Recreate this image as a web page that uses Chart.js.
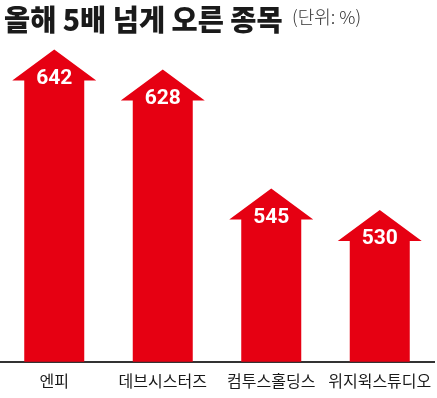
<!DOCTYPE html>
<html>
<head>
<meta charset="utf-8">
<script src="https://cdn.jsdelivr.net/npm/chart.js@4"></script>
<style>
  html, body { margin: 0; padding: 0; background: #fff; }
  #wrap { position: relative; width: 437px; height: 398px; overflow: hidden; }
  #title { position: absolute; left: 4px; top: -3px; white-space: nowrap; }
  #title .main { font-family: "Noto Sans CJK KR", sans-serif; font-weight: 900; font-size: 29px; color: #1a1a1a; display: inline-block; transform: scaleX(0.98); transform-origin: 0 0; }
  #title .unit { font-family: "Noto Sans CJK KR", sans-serif; font-weight: 300; font-size: 18px; color: #333; position: absolute; left: 288px; top: 6px; }
  canvas { position: absolute; left: 0; top: 0; }
</style>
</head>
<body>
<div id="wrap">
  <canvas id="c" width="437" height="398"></canvas>
  <div id="title"><span class="main">올해 5배 넘게 오른 종목</span><span class="unit">(단위: %)</span></div>
</div>
<script>
const categories = ['엔피', '데브시스터즈', '컴투스홀딩스', '위지윅스튜디오'];
const values = [642, 628, 545, 530];

const RED = '#E60012';

const arrowPlugin = {
  id: 'arrows',
  afterDatasetsDraw(chart) {
    const ctx = chart.ctx;
    const meta = chart.getDatasetMeta(0);
    const bottom = chart.chartArea.bottom;
    meta.data.forEach((el, i) => {
      const x = el.x, tip = el.y, base = Math.min(el.base, bottom);
      const shaftW = 60, headW = 84, headH = 31;
      ctx.save();
      ctx.fillStyle = RED;
      ctx.beginPath();
      ctx.moveTo(x, tip);
      ctx.lineTo(x + headW / 2, tip + headH);
      ctx.lineTo(x + shaftW / 2, tip + headH);
      ctx.lineTo(x + shaftW / 2, base);
      ctx.lineTo(x - shaftW / 2, base);
      ctx.lineTo(x - shaftW / 2, tip + headH);
      ctx.lineTo(x - headW / 2, tip + headH);
      ctx.closePath();
      ctx.fill();
      ctx.fillStyle = '#fff';
      ctx.font = 'bold 21px Roboto, "Noto Sans", sans-serif';
      ctx.textAlign = 'center';
      ctx.textBaseline = 'middle';
      ctx.fillText(String(values[i]), x, tip + 29);
      ctx.restore();
    });
  }
};

new Chart(document.getElementById('c'), {
  type: 'bar',
  data: {
    labels: categories,
    datasets: [{
      data: values,
      backgroundColor: 'rgba(0,0,0,0)',
      borderWidth: 0,
      barThickness: 60
    }]
  },
  options: {
    responsive: false,
    animation: false,
    layout: { padding: { top: 38, bottom: -3, left: 0, right: 3 } },
    plugins: { legend: { display: false }, tooltip: { enabled: false } },
    scales: {
      x: {
        z: 1,
        offset: true,
        grid: { display: false, drawTicks: false },
        border: { display: true, color: '#333', width: 2 },
        afterFit(scale) { scale.paddingLeft = 0; scale.paddingRight = 0; },
        ticks: {
          autoSkip: false,
          maxRotation: 0,
          minRotation: 0,
          padding: 10,
          color: '#1a1a1a',
          font: { family: '"Noto Sans CJK KR", sans-serif', size: 16 }
        }
      },
      y: {
        display: false,
        min: 424,
        max: 650
      }
    }
  },
  plugins: [arrowPlugin]
});
</script>
</body>
</html>
